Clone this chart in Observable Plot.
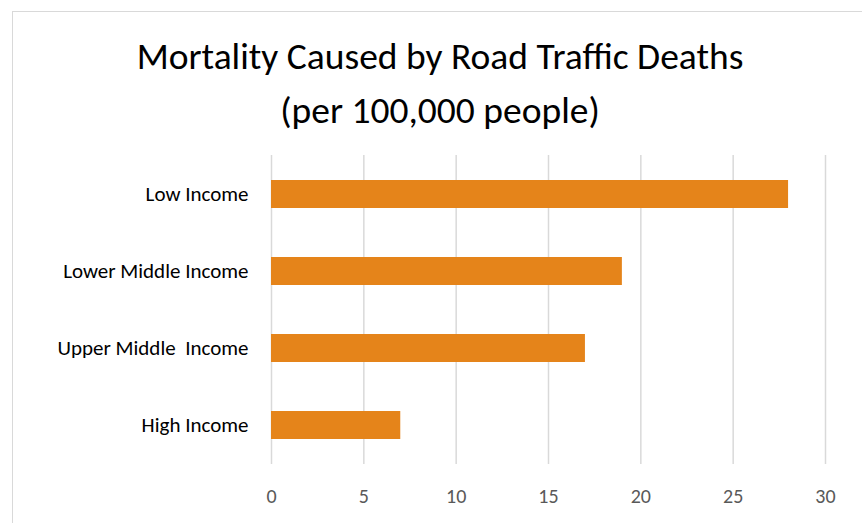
<!DOCTYPE html>
<html>
<head>
<meta charset="utf-8">
<script src="https://cdn.jsdelivr.net/npm/d3@7"></script>
<script src="https://cdn.jsdelivr.net/npm/@observablehq/plot@0.6"></script>
<style>
  html, body { margin: 0; padding: 0; background: #fff; overflow: hidden; }
  #wrap { position: relative; width: 862px; height: 523px; overflow: hidden; }
  #frame { position: absolute; left: 12px; top: 11px; width: 900px; height: 600px; border: 1.5px solid #d9d9d9; box-sizing: border-box; }
  #title { position: absolute; left: 0; top: 29px; width: 880px; text-align: center; font-family: Carlito, Lato, "Liberation Sans", sans-serif; font-size: 37.5px; line-height: 54px; color: #000; }
  #chart { position: absolute; left: 0; top: 0; }
  #chart svg text { white-space: pre; }
</style>
</head>
<body>
<div id="wrap">
  <div id="frame"></div>
  <div id="title">Mortality Caused by Road Traffic Deaths<br>(per 100,000 people)</div>
  <div id="chart"></div>
</div>
<script>
const categories = ["Low Income", "Lower Middle Income", "Upper Middle  Income", "High Income"];
const values = [28, 19, 17, 7];
const xTicks = [0, 5, 10, 15, 20, 25, 30];

const data = categories.map((c, i) => ({category: c, value: values[i]}));

const chart = Plot.plot({
  width: 862,
  height: 523,
  marginLeft: 271,
  marginRight: 37,
  marginTop: 155,
  marginBottom: 59,
  style: {fontFamily: "Carlito, Lato, 'Liberation Sans', sans-serif", fontSize: "21px", background: "transparent", overflow: "visible"},
  x: {domain: [0, 30], ticks: xTicks},
  y: {domain: categories, paddingInner: 0.64, paddingOuter: 0.32},
  marks: [
    Plot.gridX(xTicks, {stroke: "#d9d9d9", strokeOpacity: 1, strokeWidth: 1.5}),
    Plot.barX(data, {x: "value", y: "category", fill: "#E5841A"}),
    Plot.axisX(xTicks, {tickSize: 0, tickPadding: 24, label: null, fill: "#595959", fontSize: 20}),
    Plot.axisY({tickSize: 0, tickPadding: 23, label: null, fill: "#000", fontSize: 21})
  ]
});
document.getElementById("chart").appendChild(chart);
</script>
</body>
</html>
